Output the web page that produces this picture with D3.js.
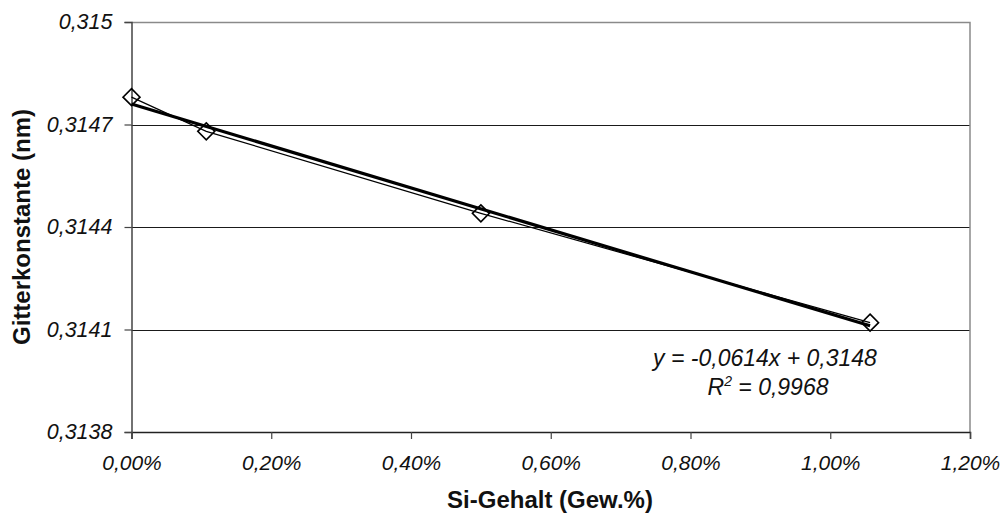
<!DOCTYPE html>
<html>
<head>
<meta charset="utf-8">
<script src="https://cdn.jsdelivr.net/npm/d3@7/dist/d3.min.js"></script>
<style>
  html, body { margin: 0; padding: 0; background: #fff; }
  svg { display: block; font-family: "Liberation Sans", Arial, sans-serif; }
</style>
</head>
<body>
<svg id="chart" width="1005" height="515"></svg>
<script>
// Si content (Gew.%) and measured lattice constant (nm)
const siContent = [0, 0.107, 0.50, 1.057];
const latticeConst = [0.31478, 0.31468, 0.31444, 0.31412];

// Linear trend (per unit fraction of Si), R²
const trendSlope = -0.0614;
const trendIntercept = 0.31476;
const trendR2 = 0.9968;

// Axis ticks
const xTicks = [0, 0.2, 0.4, 0.6, 0.8, 1.0, 1.2];
const yTicks = [0.3138, 0.3141, 0.3144, 0.3147, 0.315];
const yTickLabels = ["0,3138", "0,3141", "0,3144", "0,3147", "0,315"];

const xTitle = "Si-Gehalt (Gew.%)";
const yTitle = "Gitterkonstante (nm)";

const svg = d3.select("#chart");
const plot = { left: 131.5, right: 970, top: 22, bottom: 432 };

const x = d3.scaleLinear().domain([0, 1.2]).range([plot.left, plot.right]);
const y = d3.scaleLinear().domain([0.3138, 0.315]).range([plot.bottom, plot.top]);

const comma = s => s.replace(".", ",");

// Horizontal gridlines
svg.append("g")
  .selectAll("line")
  .data(yTicks.slice(1, -1))
  .join("line")
  .attr("x1", plot.left).attr("x2", plot.right)
  .attr("y1", d => Math.round(y(d)) + 0.5).attr("y2", d => Math.round(y(d)) + 0.5)
  .attr("stroke", "#1a1a1a").attr("stroke-width", 1);

// Top and right frame
svg.append("path")
  .attr("d", `M${plot.left},${plot.top + 0.5}H${plot.right}V${plot.bottom}`)
  .attr("fill", "none").attr("stroke", "#8a8a8a").attr("stroke-width", 1.5);

// X axis
const xAxis = svg.append("g")
  .attr("transform", `translate(0,${plot.bottom})`)
  .call(d3.axisBottom(x).tickValues(xTicks).tickSize(7).tickPadding(16)
    .tickFormat(d => comma(d.toFixed(2)) + "%"));
xAxis.select(".domain").attr("stroke", "#222").attr("stroke-width", 1.5);
xAxis.selectAll(".tick line").attr("stroke", "#444").attr("stroke-width", 1.2);
xAxis.selectAll(".tick text")
  .attr("font-size", 21).attr("font-style", "italic").attr("fill", "#111")
  .attr("font-family", "'Liberation Sans', Arial, sans-serif");

// Y axis
const yAxis = svg.append("g")
  .attr("transform", `translate(${plot.left},0)`)
  .call(d3.axisLeft(y).tickValues(yTicks).tickSize(7).tickPadding(12)
    .tickFormat((d, i) => yTickLabels[i]));
yAxis.select(".domain").attr("stroke", "#444").attr("stroke-width", 1.5);
yAxis.selectAll(".tick line").attr("stroke", "#444").attr("stroke-width", 1.2);
yAxis.selectAll(".tick text")
  .attr("font-size", 21.5).attr("font-style", "italic").attr("fill", "#111")
  .attr("font-family", "'Liberation Sans', Arial, sans-serif");

// Data series line
const pts = siContent.map((v, i) => [v, latticeConst[i]]);
svg.append("path")
  .datum(pts)
  .attr("d", d3.line().x(d => x(d[0])).y(d => y(d[1])))
  .attr("fill", "none").attr("stroke", "#000").attr("stroke-width", 1.2);

// Diamond markers
svg.append("g")
  .selectAll("path")
  .data(pts)
  .join("path")
  .attr("transform", d => `translate(${x(d[0])},${y(d[1])})`)
  .attr("d", "M0,-8.5L8.5,0L0,8.5L-8.5,0Z")
  .attr("fill", "none").attr("stroke", "#000").attr("stroke-width", 1.6);

// Linear trend line over the data range
const trendAt = pct => trendIntercept + trendSlope * pct / 100;
const xMax = d3.max(siContent);
svg.append("line")
  .attr("x1", x(0)).attr("y1", y(trendAt(0)))
  .attr("x2", x(xMax)).attr("y2", y(trendAt(xMax)))
  .attr("stroke", "#000").attr("stroke-width", 3.2);

// Trend equation and R²
const eq = svg.append("g").attr("font-style", "italic").attr("font-size", 23).attr("fill", "#111");
eq.append("text")
  .attr("x", 765).attr("y", 366).attr("text-anchor", "middle")
  .text(`y = ${comma(trendSlope.toFixed(4))}x + ${comma(trendIntercept.toFixed(4))}`);
const r2 = eq.append("text")
  .attr("x", 768).attr("y", 395).attr("text-anchor", "middle");
r2.append("tspan").text("R");
r2.append("tspan").attr("dy", -9).attr("font-size", 14).text("2");
r2.append("tspan").attr("dy", 9).text(` = ${comma(trendR2.toFixed(4))}`);

// Axis titles
svg.append("text")
  .attr("x", 550).attr("y", 508)
  .attr("text-anchor", "middle").attr("font-weight", "bold").attr("font-size", 24)
  .attr("fill", "#111")
  .text(xTitle);

svg.append("text")
  .attr("transform", `translate(30,${(plot.top + plot.bottom) / 2}) rotate(-90)`)
  .attr("text-anchor", "middle").attr("font-weight", "bold").attr("font-size", 24)
  .attr("fill", "#111")
  .text(yTitle);
</script>
</body>
</html>
